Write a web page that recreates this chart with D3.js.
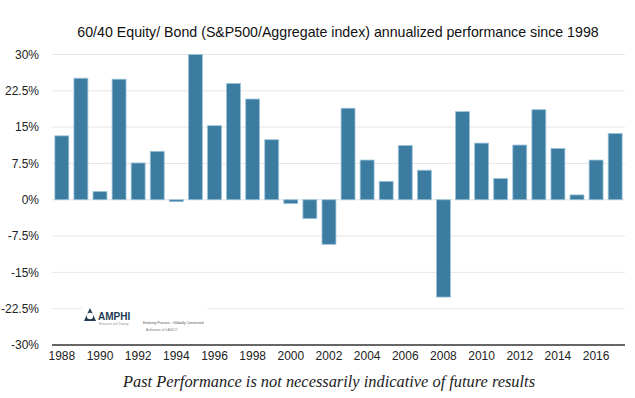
<!DOCTYPE html>
<html>
<head>
<meta charset="utf-8">
<script src="https://cdn.jsdelivr.net/npm/d3@7"></script>
<style>
  body { margin: 0; background: #fff; }
</style>
</head>
<body>
<div id="chart"></div>
<script>
// chart data
var years = [1988, 1989, 1990, 1991, 1992, 1993, 1994, 1995, 1996, 1997,
             1998, 1999, 2000, 2001, 2002, 2003, 2004, 2005, 2006, 2007,
             2008, 2009, 2010, 2011, 2012, 2013, 2014, 2015, 2016, 2017];
var returns = [13.2, 25.1, 1.7, 24.9, 7.6, 10.0, -0.4, 30.0, 15.3, 24.0,
               20.8, 12.4, -0.8, -3.9, -9.2, 18.9, 8.2, 3.8, 11.2, 6.1,
               -20.1, 18.2, 11.7, 4.4, 11.3, 18.6, 10.6, 1.0, 8.2, 13.7];
var yTicks = [30, 22.5, 15, 7.5, 0, -7.5, -15, -22.5, -30];
var xTickYears = [1988, 1990, 1992, 1994, 1996, 1998, 2000, 2002, 2004, 2006, 2008, 2010, 2012, 2014, 2016];

// sizes of canvas and plot area (note: "top" is reserved on window, so plot* names)
var width = 635;
var height = 398;
var plotLeft = 52, plotRight = 625, plotTop = 54.5, plotBottom = 345;
var sans = "\"Helvetica Neue\", \"Liberation Sans\", Arial, sans-serif";

var svg = d3.select("#chart")
    .append("svg")
    .attr("width", width)
    .attr("height", height);

var x = d3.scaleBand()
    .domain(years)
    .range([plotLeft, plotRight])
    .paddingInner(0.27)
    .paddingOuter(0.15);

var y = d3.scaleLinear()
    .domain([-30, 30])
    .range([plotBottom, plotTop]);

// title
svg.append("text")
    .attr("x", 338)
    .attr("y", 37)
    .attr("text-anchor", "middle")
    .style("font-family", sans)
    .style("font-size", "14.2px")
    .style("fill", "#111")
    .text("60/40 Equity/ Bond (S&P500/Aggregate index) annualized performance since 1998");

// gridlines
svg.append("g")
    .selectAll("line")
    .data(yTicks.filter(function(d) { return d !== -30; }))
    .enter().append("line")
    .attr("x1", plotLeft)
    .attr("x2", plotRight)
    .attr("y1", function(d) { return y(d); })
    .attr("y2", function(d) { return y(d); })
    .attr("stroke", "#e6e6e6")
    .attr("stroke-width", 1);

// y labels
var yAxis = svg.append("g")
    .attr("transform", "translate(39,0)")
    .call(d3.axisLeft(y).tickValues(yTicks).tickSize(0).tickPadding(0)
        .tickFormat(function(d) { return d + "%"; }));
yAxis.select(".domain").remove();
yAxis.selectAll("text")
    .style("font-size", "12px")
    .style("font-family", sans)
    .style("fill", "#222");

// bars
svg.append("g")
    .selectAll("rect")
    .data(years)
    .enter().append("rect")
    .attr("x", function(d) { return x(d); })
    .attr("width", x.bandwidth())
    .attr("y", function(d, i) { return y(Math.max(0, returns[i])); })
    .attr("height", function(d, i) { return Math.abs(y(returns[i]) - y(0)); })
    .attr("fill", "#3b7ca0")
    .attr("stroke", "#9cc3da")
    .attr("stroke-width", 0.8);

// baseline at bottom
svg.append("line")
    .attr("x1", plotLeft)
    .attr("x2", plotRight)
    .attr("y1", y(-30))
    .attr("y2", y(-30))
    .attr("stroke", "#333")
    .attr("stroke-width", 1.3);

// x labels
var xAxis = svg.append("g")
    .attr("transform", "translate(0," + y(-30) + ")")
    .call(d3.axisBottom(x).tickValues(xTickYears).tickSize(0).tickPadding(6));
xAxis.select(".domain").remove();
xAxis.selectAll("text")
    .style("font-size", "12px")
    .style("font-family", sans)
    .style("fill", "#222");

// logo block (white box over grid)
var logo = svg.append("g");
logo.append("rect")
    .attr("x", 82).attr("y", 300).attr("width", 125).attr("height", 30)
    .attr("fill", "#fff");
logo.append("path")
    .attr("d", "M90,308 L84,321 L96,321 Z")
    .attr("fill", "#1f3b53");
logo.append("circle")
    .attr("cx", 90).attr("cy", 316).attr("r", 3.2)
    .attr("fill", "#fff");
logo.append("text")
    .attr("x", 98).attr("y", 320)
    .style("font-family", "\"Liberation Sans\", Arial, sans-serif")
    .style("font-weight", "bold")
    .style("font-size", "10px")
    .style("fill", "#1f3b53")
    .text("AMPHI");
logo.append("text")
    .attr("x", 99).attr("y", 325)
    .style("font-family", "\"Liberation Sans\", Arial, sans-serif")
    .style("font-size", "3px")
    .style("fill", "#999")
    .text("Research and Trading");
logo.append("text")
    .attr("x", 143).attr("y", 324)
    .style("font-family", "\"Liberation Sans\", Arial, sans-serif")
    .style("font-size", "3.5px")
    .style("fill", "#555")
    .text("Evolving Process - Globally Connected");
logo.append("text")
    .attr("x", 146).attr("y", 331)
    .style("font-family", "\"Liberation Sans\", Arial, sans-serif")
    .style("font-size", "3.5px")
    .style("fill", "#777")
    .text("A division of LASCO");

// footer note
svg.append("text")
    .attr("x", 329)
    .attr("y", 387)
    .attr("text-anchor", "middle")
    .style("font-family", "\"Liberation Serif\", \"DejaVu Serif\", serif")
    .style("font-style", "italic")
    .style("font-size", "16.4px")
    .style("fill", "#222")
    .text("Past Performance is not necessarily indicative of future results");
</script>
</body>
</html>
